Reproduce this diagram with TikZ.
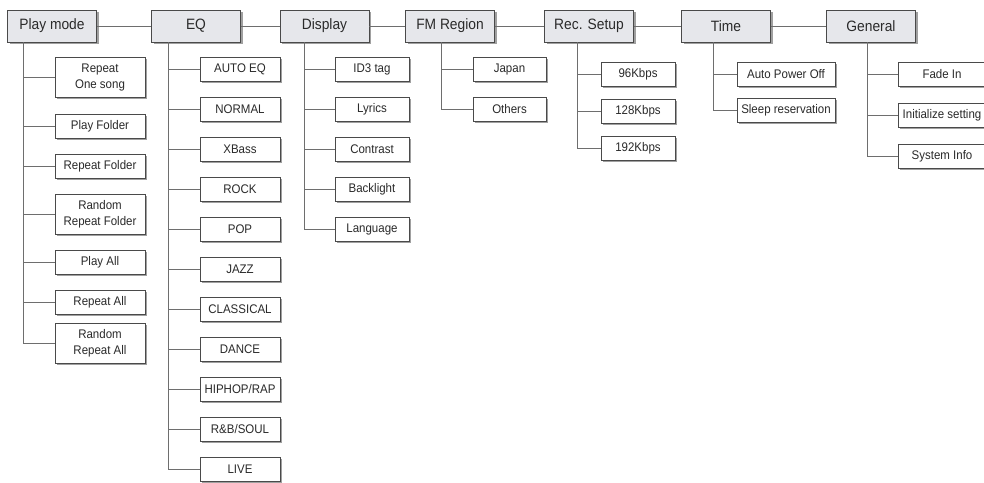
\documentclass[tikz,border=0pt]{standalone}
\usepackage{fontspec}
\setmainfont{Liberation Sans}[FakeStretch=0.92]
\usetikzlibrary{shadows}
\definecolor{mline}{HTML}{4A4A4A}
\definecolor{mfill}{HTML}{E6E7EB}
\definecolor{mtext}{HTML}{2A2A2A}
\definecolor{mshadow}{HTML}{A0A0A0}
\definecolor{mlink}{HTML}{6E6E6E}
\tikzset{
  menu/.style  = {draw=mline, fill=mfill, line width=0.8pt, minimum width=89pt,
                  minimum height=32pt, inner sep=2pt, align=center,
                  font=\fontsize{15}{18}\selectfont, text=mtext,
                  drop shadow={shadow xshift=2pt, shadow yshift=-2pt,
                               fill=mshadow, opacity=1}},
  item/.style  = {menu, fill=white, minimum height=24pt,
                  font=\fontsize{12.5}{16}\selectfont},
  item2/.style = {item, minimum height=40pt},
  link/.style  = {draw=mlink, line width=0.9pt},
}

\begin{document}
\begin{tikzpicture}[x=1pt, y=-1pt]

\path[use as bounding box, fill=white] (0,0) rectangle (984,482);

% top row of menus
\foreach \n/\x/\t in {pm/52/Play mode, eq/196/EQ, disp/324.5/Display,
                      fm/450/FM Region, rec/589/Rec. Setup, time/726/Time,
                      gen/871/General} {
  \node[menu] (\n) at (\x,26) {\t};
}
\foreach \a/\b in {pm/eq, eq/disp, disp/fm, fm/rec, rec/time, time/gen} {
  \draw[link] (\a) -- (\b);
}

% trunks under each menu
\coordinate (pm-t)   at ([xshift=-29pt]pm.south);
\coordinate (eq-t)   at ([xshift=-28pt]eq.south);
\coordinate (disp-t) at ([xshift=-20.5pt]disp.south);
\coordinate (fm-t)   at ([xshift=-9pt]fm.south);
\coordinate (rec-t)  at ([xshift=-12pt]rec.south);
\coordinate (time-t) at ([xshift=-13pt]time.south);
\coordinate (gen-t)  at ([xshift=-4pt]gen.south);

% Play mode
\foreach \i/\y/\s/\t in {1/77/item2/Repeat\\One song, 2/126/item/Play Folder,
                         3/166/item/Repeat Folder, 4/214/item2/Random\\Repeat Folder,
                         5/262/item/Play All, 6/302/item/Repeat All,
                         7/343/item2/Random\\Repeat All} {
  \node[\s, minimum width=90pt] (pm\i) at (100,\y) {\t};
  \draw[link] (pm-t) |- (pm\i.west);
}

% EQ
\foreach \t [count=\i] in {AUTO EQ, NORMAL, XBass, ROCK, POP, JAZZ, CLASSICAL,
                           DANCE, HIPHOP/RAP, R\&B/SOUL, LIVE} {
  \node[item, minimum width=80pt] (eq\i) at (240,29+40*\i) {\t};
  \draw[link] (eq-t) |- (eq\i.west);
}

% Display
\foreach \t [count=\i] in {ID3 tag, Lyrics, Contrast, Backlight, Language} {
  \node[item, minimum width=74pt] (disp\i) at (372,29+40*\i) {\t};
  \draw[link] (disp-t) |- (disp\i.west);
}

% FM Region
\foreach \t [count=\i] in {Japan, Others} {
  \node[item, minimum width=73pt] (fm\i) at (509.5,29+40*\i) {\t};
  \draw[link] (fm-t) |- (fm\i.west);
}

% Rec. Setup
\foreach \t [count=\i] in {96Kbps, 128Kbps, 192Kbps} {
  \node[item, minimum width=74pt] (rec\i) at (638,37+37*\i) {\t};
  \draw[link] (rec-t) |- (rec\i.west);
}

% Time
\foreach \t [count=\i] in {Auto Power Off, Sleep reservation} {
  \node[item, minimum width=98pt] (time\i) at (786,38+36*\i) {\t};
  \draw[link] (time-t) |- (time\i.west);
}

% General
\foreach \t [count=\i] in {Fade In, Initialize setting, System Info} {
  \node[item, minimum width=88pt] (gen\i) at (942,33+41*\i) {\t};
  \draw[link] (gen-t) |- (gen\i.west);
}

\end{tikzpicture}
\end{document}
